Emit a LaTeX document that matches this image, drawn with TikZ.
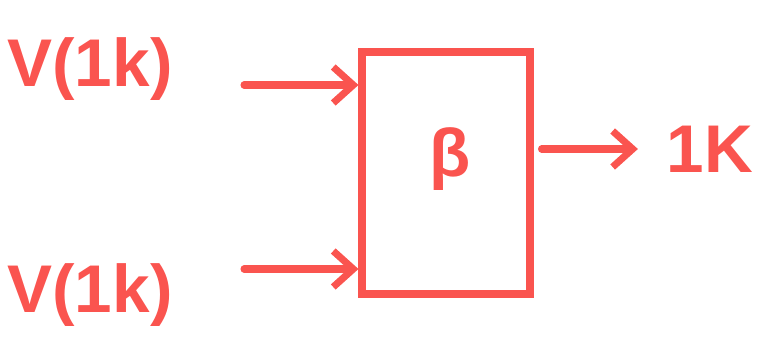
\documentclass[tikz,border=0pt]{standalone}
\usepackage{fontspec}
\setmainfont{Liberation Sans}
\usepackage{tikz}
\usetikzlibrary{arrows.meta}
\def\penwidth{5pt}
\definecolor{penred}{rgb}{0.98,0.33,0.31}
\newcommand{\bigpen}{\fontsize{48}{48}\selectfont\bfseries}

\begin{document}
\begin{tikzpicture}[x = 1cm, y = 1cm, scale = 1]
            
            \useasboundingbox (0,0) rectangle (19.2,8.825);
            
            \node[text=penred] (v1) at (2.25,7.1){\bigpen V(1k)};
            \node[text=penred] (v2) at (2.25,1.45){\bigpen V(1k)};
            
            \node[draw=penred, line width=\penwidth, minimum width=4.2cm, minimum height=6.05cm] (blk) at (11.15,4.5){};
            \node[text=penred] (beta) at (11.25,4.85){\bigpen β};
            
            \node[text=penred] (out) at (17.75,5.1){\bigpen 1K};
            
            \coordinate (a1) at (6.1,6.7);
            \coordinate (a2) at (6.1,2.1);
            
            \draw [line width=\penwidth, color=penred, line cap=round, -{Straight Barb[length=5mm, width=9mm]}] (a1) -- (a1 -| blk.west);
            \draw [line width=\penwidth, color=penred, line cap=round, -{Straight Barb[length=5mm, width=9mm]}] (a2) -- (a2 -| blk.west);
            \draw [line width=\penwidth, color=penred, line cap=round, -{Straight Barb[length=5mm, width=9mm]}] ([xshift=2mm]blk.east |- out) -- ([xshift=-6mm]out.west);
            
        \end{tikzpicture}
\end{document}
